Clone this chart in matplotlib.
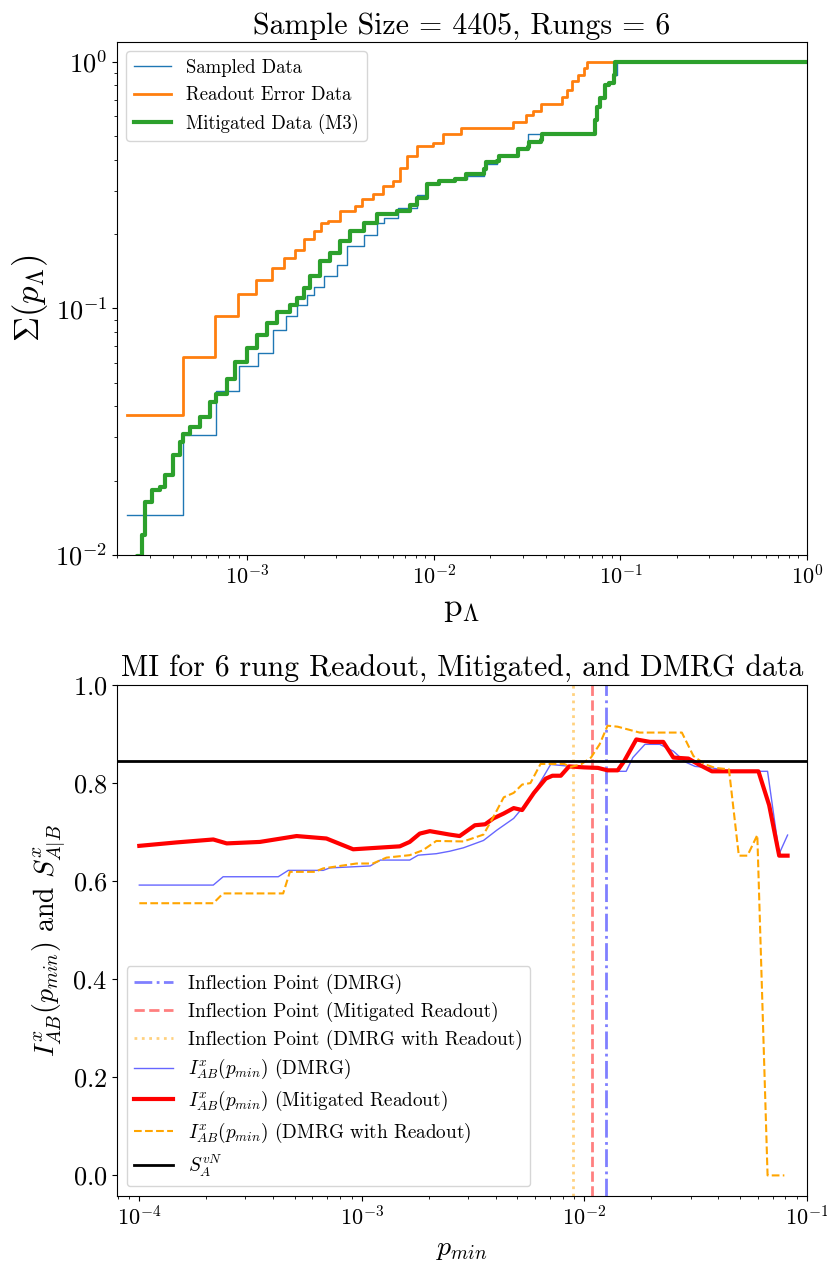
import matplotlib
matplotlib.use("Agg")
import matplotlib.pyplot as plt

plt.rcParams['font.family'] = 'serif'
plt.rcParams['font.serif'] = ['cmr10']
plt.rcParams['mathtext.fontset'] = 'cm'
plt.rcParams['axes.formatter.use_mathtext'] = True
plt.rcParams['axes.unicode_minus'] = False

# ---------------- top panel data (cumulative sums, step functions) ----------------
sampled_p = [2.27e-4, 4.54e-4, 6.8e-4, 9.07e-4, 1.14e-3, 1.38e-3, 1.61e-3, 1.84e-3, 2.08e-3,
             2.28e-3, 2.56e-3, 3.02e-3, 3.44e-3, 4.20e-3, 4.95e-3, 5.37e-3, 6.39e-3, 8.13e-3,
             9.19e-3, 1.06e-2, 1.30e-2, 1.50e-2, 1.86e-2, 1.90e-2, 2.19e-2, 2.24e-2, 2.76e-2,
             2.82e-2, 3.19e-2, 3.80e-2, 7.20e-2, 7.48e-2, 7.80e-2, 8.30e-2, 8.65e-2, 9.20e-2,
             9.60e-2, 1.0]
sampled_sigma = [0.01455, 0.0306, 0.0462, 0.0585, 0.0656, 0.0817, 0.0931, 0.103, 0.1133,
                 0.1214, 0.1346, 0.150, 0.178, 0.199, 0.222, 0.232, 0.255, 0.289,
                 0.318, 0.327, 0.333, 0.345, 0.362, 0.385, 0.397, 0.414, 0.416,
                 0.443, 0.510, 0.510, 0.579, 0.656, 0.710, 0.805, 0.819, 0.885,
                 1.0, 1.0]

readout_p = [2.25e-4, 4.5e-4, 6.7e-4, 8.95e-4, 1.11e-3, 1.35e-3, 1.57e-3, 1.8e-3, 2.02e-3,
             2.28e-3, 2.48e-3, 2.72e-3, 3.15e-3, 3.79e-3, 4.11e-3, 4.73e-3, 5.36e-3, 6.05e-3,
             6.61e-3, 7.18e-3, 8.13e-3, 9.93e-3, 1.12e-2, 1.39e-2, 2.64e-2, 3.13e-2, 3.38e-2,
             3.77e-2, 4.83e-2, 5.14e-2, 5.47e-2, 5.94e-2, 6.34e-2, 6.58e-2, 1.0]
readout_sigma = [0.0369, 0.0636, 0.0931, 0.1145, 0.130, 0.146, 0.160, 0.173, 0.190,
                 0.205, 0.222, 0.225, 0.247, 0.259, 0.276, 0.290, 0.313, 0.327,
                 0.371, 0.414, 0.454, 0.469, 0.508, 0.539, 0.570, 0.607, 0.632,
                 0.671, 0.721, 0.768, 0.831, 0.885, 0.943, 1.0, 1.0]

mitigated_p = [2.5e-4, 2.55e-4, 2.71e-4, 2.82e-4, 3.07e-4, 3.40e-4, 3.62e-4, 4.01e-4, 4.36e-4,
               4.54e-4, 4.93e-4, 5.58e-4, 6.31e-4, 6.79e-4, 7.76e-4, 8.59e-4, 9.93e-4, 1.12e-3,
               1.27e-3, 1.44e-3, 1.70e-3, 1.84e-3, 2.00e-3, 2.17e-3, 2.46e-3, 2.78e-3, 3.15e-3,
               3.56e-3, 4.20e-3, 4.95e-3, 6.34e-3, 7.48e-3, 8.13e-3, 9.19e-3, 1.06e-2, 1.30e-2,
               1.48e-2, 1.86e-2, 1.90e-2, 2.19e-2, 2.24e-2, 2.76e-2, 2.82e-2, 3.19e-2, 3.25e-2,
               3.77e-2, 3.80e-2, 7.33e-2, 7.48e-2, 7.80e-2, 8.30e-2, 8.65e-2, 9.20e-2, 9.40e-2, 1.0]
mitigated_sigma = [0.008, 0.0099, 0.0120, 0.0164, 0.0183, 0.0188, 0.0210, 0.0254, 0.0287,
                   0.0310, 0.0330, 0.0363, 0.0418, 0.0451, 0.0519, 0.0607, 0.0688, 0.078,
                   0.0869, 0.097, 0.103, 0.110, 0.1206, 0.1346, 0.155, 0.1675, 0.1867,
                   0.205, 0.222, 0.241, 0.247, 0.263, 0.280, 0.318, 0.327, 0.333,
                   0.350, 0.367, 0.390, 0.397, 0.414, 0.416, 0.443, 0.450, 0.472,
                   0.479, 0.510, 0.579, 0.656, 0.710, 0.805, 0.819, 0.885, 1.0, 1.0]

# ---------------- bottom panel data ----------------
dmrg_pmin = [1.0e-4, 2.15e-4, 2.38e-4, 4.21e-4, 4.67e-4, 6.70e-4, 7.18e-4, 1.09e-3, 1.21e-3,
             1.64e-3, 1.79e-3, 2.16e-3, 2.48e-3, 2.86e-3, 3.52e-3, 4.04e-3, 4.81e-3, 5.72e-3,
             6.35e-3, 7.05e-3, 8.69e-3, 1.03e-2, 1.27e-2, 1.41e-2, 1.54e-2, 1.65e-2, 1.87e-2,
             2.18e-2, 2.51e-2, 2.84e-2, 3.14e-2, 3.74e-2, 4.46e-2, 6.65e-2, 7.50e-2, 8.18e-2]
dmrg_mi = [0.592, 0.592, 0.609, 0.609, 0.622, 0.622, 0.627, 0.631, 0.643,
           0.643, 0.653, 0.656, 0.661, 0.668, 0.683, 0.704, 0.728, 0.769,
           0.803, 0.838, 0.834, 0.832, 0.826, 0.824, 0.824, 0.852, 0.879,
           0.879, 0.865, 0.843, 0.834, 0.831, 0.824, 0.824, 0.656, 0.694]

mit_pmin = [1.0e-4, 1.47e-4, 2.15e-4, 2.47e-4, 3.48e-4, 5.09e-4, 6.93e-4, 9.14e-4, 1.48e-3,
            1.64e-3, 1.82e-3, 2.02e-3, 2.48e-3, 2.75e-3, 3.22e-3, 3.58e-3, 3.90e-3, 4.34e-3,
            4.81e-3, 5.25e-3, 5.93e-3, 6.70e-3, 7.18e-3, 7.83e-3, 8.53e-3, 9.98e-3, 1.15e-2,
            1.27e-2, 1.41e-2, 1.51e-2, 1.71e-2, 1.97e-2, 2.26e-2, 2.51e-2, 2.93e-2, 3.26e-2,
            3.74e-2, 4.46e-2, 6.05e-2, 6.76e-2, 7.50e-2, 8.18e-2]
mit_mi = [0.672, 0.679, 0.685, 0.677, 0.680, 0.692, 0.687, 0.665, 0.671,
          0.680, 0.697, 0.702, 0.695, 0.692, 0.714, 0.716, 0.728, 0.738,
          0.749, 0.745, 0.780, 0.809, 0.815, 0.815, 0.834, 0.832, 0.831,
          0.826, 0.826, 0.845, 0.889, 0.884, 0.884, 0.852, 0.850, 0.838,
          0.824, 0.824, 0.824, 0.755, 0.652, 0.652]

ro_pmin = [1.0e-4, 2.15e-4, 2.38e-4, 4.43e-4, 4.75e-4, 6.15e-4, 6.70e-4, 9.46e-4, 1.12e-3,
           1.29e-3, 1.64e-3, 1.88e-3, 2.16e-3, 2.86e-3, 3.52e-3, 3.90e-3, 4.34e-3, 4.81e-3,
           5.25e-3, 5.72e-3, 6.35e-3, 7.05e-3, 8.11e-3, 8.69e-3, 9.64e-3, 1.07e-2, 1.17e-2,
           1.27e-2, 1.41e-2, 1.77e-2, 2.00e-2, 2.74e-2, 3.09e-2, 3.49e-2, 3.87e-2, 4.46e-2,
           4.94e-2, 5.40e-2, 5.98e-2, 6.65e-2, 7.91e-2]
ro_mi = [0.555, 0.555, 0.575, 0.575, 0.619, 0.619, 0.626, 0.636, 0.636,
         0.648, 0.653, 0.663, 0.682, 0.681, 0.695, 0.731, 0.771, 0.780,
         0.797, 0.800, 0.839, 0.839, 0.839, 0.833, 0.838, 0.852, 0.879,
         0.917, 0.915, 0.903, 0.903, 0.903, 0.855, 0.838, 0.831, 0.828,
         0.652, 0.652, 0.694, 0.0, 0.0]

inflection_dmrg = 1.256e-2
inflection_mit = 1.076e-2
inflection_ro = 8.9e-3
s_vn = 0.846

fig = plt.figure(figsize=(8.27, 12.77), dpi=100)
W, H = 827, 1277
ax1 = fig.add_axes([117 / W, 1 - 555 / H, 690 / W, 513 / H])
ax2 = fig.add_axes([117 / W, 1 - 1196 / H, 690 / W, 511 / H])

ax1.plot(sampled_p, sampled_sigma, drawstyle='steps-post', color='C0', lw=1, label='Sampled Data')
ax1.plot(readout_p, readout_sigma, drawstyle='steps-post', color='C1', lw=2, label='Readout Error Data')
ax1.plot(mitigated_p, mitigated_sigma, drawstyle='steps-post', color='C2', lw=3, label='Mitigated Data (M3)')
ax1.set_xscale('log')
ax1.set_yscale('log')
ax1.set_xlim(2e-4, 1)
ax1.set_ylim(1e-2, 1.2)
ax1.set_title('Sample Size = 4405, Rungs = 6', fontsize=21.5)
ax1.set_xlabel(r'p$_\Lambda$', fontsize=24)
ax1.set_ylabel(r'$\Sigma(p_\Lambda)$', fontsize=25)
ax1.tick_params(axis='x', labelsize=16)
ax1.tick_params(axis='y', labelsize=19)
ax1.legend(loc='upper left', fontsize=13.5)

ax2.axvline(inflection_dmrg, color='blue', ls='-.', alpha=0.5, lw=2, label='Inflection Point (DMRG)')
ax2.axvline(inflection_mit, color='red', ls='--', alpha=0.5, lw=2, label='Inflection Point (Mitigated Readout)')
ax2.axvline(inflection_ro, color='orange', ls=':', alpha=0.5, lw=2, label='Inflection Point (DMRG with Readout)')
ax2.plot(dmrg_pmin, dmrg_mi, color='blue', alpha=0.6, lw=1, label=r'$I^x_{AB}(p_{min})$ (DMRG)')
ax2.plot(mit_pmin, mit_mi, color='red', lw=3, label=r'$I^x_{AB}(p_{min})$ (Mitigated Readout)')
ax2.plot(ro_pmin, ro_mi, color='orange', ls='--', lw=1.5, label=r'$I^x_{AB}(p_{min})$ (DMRG with Readout)')
ax2.axhline(s_vn, color='black', lw=2, label=r'$S^{vN}_A$')
ax2.set_xscale('log')
ax2.set_xlim(7.94e-5, 1e-1)
ax2.set_ylim(-0.042, 1.0)
ax2.set_title('MI for 6 rung Readout, Mitigated, and DMRG data', fontsize=21.5)
ax2.set_xlabel(r'$p_{min}$', fontsize=20)
ax2.set_ylabel(r'$I^x_{AB}(p_{min})$ and $S^x_{A|B}$', fontsize=20)
ax2.tick_params(axis='x', labelsize=16)
ax2.tick_params(axis='y', labelsize=19)
ax2.legend(loc='lower left', fontsize=13.8, labelspacing=0.4)

fig.savefig('out.png', dpi=100)
